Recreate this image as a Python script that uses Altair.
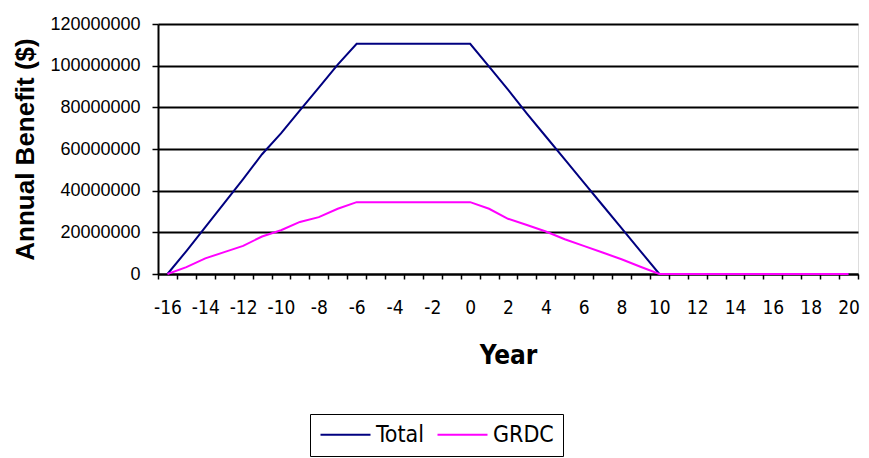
import altair as alt
import pandas as pd

years = list(range(-16, 21))
total = [0, 11.0, 22.5, 34.0, 45.5, 57.5, 67.5, 78.5, 89.5, 100.5, 110.5,
         110.5, 110.5, 110.5, 110.5, 110.5, 110.5,
         99.5, 88.5, 77.0, 66.0, 55.0, 44.0, 33.0, 22.0, 11.0, 0,
         0, 0, 0, 0, 0, 0, 0, 0, 0, 0]
grdc = [0, 3.3, 7.5, 10.5, 13.5, 18.0, 21.0, 25.0, 27.3, 31.3, 34.5,
        34.5, 34.5, 34.5, 34.5, 34.5, 34.5,
        31.3, 26.5, 23.5, 20.4, 16.7, 13.5, 10.3, 7.1, 3.5, 0,
        0, 0, 0, 0, 0, 0, 0, 0, 0, 0]
series = ["Total", "GRDC"]
colors = ["#000080", "#FF00FF"]

rows = []
for s, vals in zip(series, [total, grdc]):
    for y, v in zip(years, vals):
        rows.append({"Year": y, "Benefit": v * 1_000_000, "Series": s})
df = pd.DataFrame(rows)

NARROW = "Liberation Sans Narrow, Arial Narrow, DejaVu Sans Condensed, sans-serif"

chart = alt.Chart(df).mark_line(strokeWidth=2).encode(
    x=alt.X("Year:O",
            sort=years,
            bandPosition=0.5,
            scale=alt.Scale(type="band", paddingInner=0, paddingOuter=0),
            axis=alt.Axis(title="Year", labelAngle=0, tickBand="extent",
                          labelExpr="datum.value % 2 == 0 ? datum.label : ''",
                          labelFont=NARROW, labelFontSize=19, labelPadding=19,
                          labelColor="black",
                          tickColor="black", tickSize=5, tickWidth=1.5,
                          domainColor="black", domainWidth=2,
                          titleFont=NARROW, titleFontSize=26, titleFontWeight="bold",
                          titleColor="black", titlePadding=25)),
    y=alt.Y("Benefit:Q",
            scale=alt.Scale(domain=[0, 120000000], nice=False),
            axis=alt.Axis(title="Annual Benefit ($)",
                          values=[0, 20000000, 40000000, 60000000, 80000000, 100000000, 120000000],
                          format="d", labelFont="Liberation Sans", labelFontSize=18,
                          labelColor="black", labelPadding=12,
                          tickColor="black", tickSize=6, tickWidth=1.5,
                          domainColor="black", domainWidth=2,
                          grid=True, gridColor="black", gridWidth=2,
                          titleFont="Liberation Sans", titleFontSize=26, titleFontWeight="bold",
                          titleColor="black", titlePadding=11)),
    color=alt.Color("Series:N",
                    scale=alt.Scale(domain=series, range=colors),
                    sort=series,
                    legend=alt.Legend(title=None, orient="none", legendX=152, legendY=390,
                                      direction="horizontal", strokeColor="black",
                                      fillColor="white", padding=9,
                                      symbolType="M-1,0H4", symbolSize=400,
                                      symbolStrokeWidth=2, labelFont=NARROW,
                                      labelFontSize=23, labelColor="black",
                                      labelOffset=34, columnPadding=9)),
).properties(
    width=700,
    height=250,
    autosize=alt.AutoSizeParams(type="none"),
    padding={"left": 150, "top": 16, "right": 3, "bottom": 184},
).configure_view(
    fill="#CCCCCC", stroke="black", strokeWidth=2
).configure(background="white")

chart.save("out.html", embed_options={"renderer": "svg", "actions": False})
